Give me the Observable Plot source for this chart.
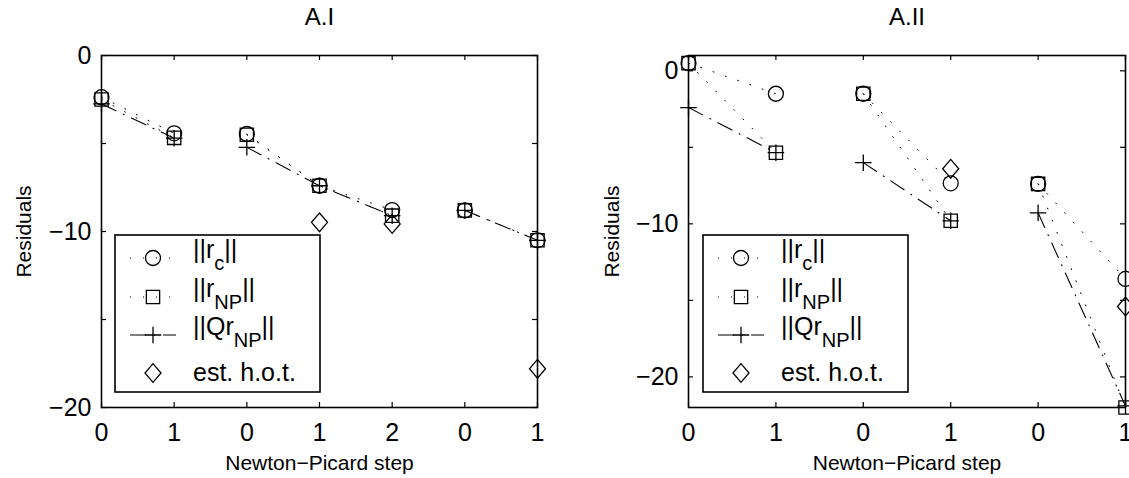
<!DOCTYPE html>
<html><head><meta charset="utf-8">
<script src="https://cdn.jsdelivr.net/npm/d3@7"></script>
<script src="https://cdn.jsdelivr.net/npm/@observablehq/plot@0.6"></script>
<style>
body{margin:0;background:#fff;}
#wrap{position:relative;width:1129px;height:478px;display:flex;overflow:hidden;}
.panel{position:relative;flex:none;}
.legend{position:absolute;}
svg text{font-family:"Liberation Sans",Arial,sans-serif;}
</style></head><body><div id="wrap"></div>
<script>
// ---------- data ----------
// Panel A.I
const stepLabelsA1 = ["0","1","0","1","2","0","1"];
const iterA1 = [1,1,2,2,2,3,3];
const rcA1   = [-2.37,-4.42,-4.46,-7.40,-8.78,-8.80,-10.50];
const rnpA1  = [-2.50,-4.68,-4.50,-7.40,-9.10,-8.80,-10.50];
const qrnpA1 = [-2.75,-4.70,-5.22,-7.40,-9.10,-8.80,-10.50];
const hotA1  = [null,null,null,-9.48,-9.57,null,-17.80];
// Panel A.II
const stepLabelsA2 = ["0","1","0","1","0","1"];
const iterA2 = [1,1,2,2,3,3];
const rcA2   = [0.50,-1.50,-1.50,-7.35,-7.39,-13.60];
const rnpA2  = [0.50,-5.35,-1.50,-9.80,-7.39,-22.00];
const qrnpA2 = [-2.40,-5.35,-6.00,-9.80,-9.28,-21.90];
const hotA2  = [null,null,null,-6.40,null,-15.40];
// axis ticks
const yTicksA1 = [-20,-15,-10,-5,0];
const yLabelsA1 = [-20,-10,0];
const yTicksA2 = [-20,-15,-10,-5,0];
const yLabelsA2 = [-20,-10,0];
const titles = ["A.I","A.II"];
const xTitle = "Newton\u2212Picard step";
const yTitle = "Residuals";

// ---------- styles ----------
const FONT = "Liberation Sans, Arial, sans-serif";
const FS_TICK = 25, FS_TITLE = 24, FS_LABEL = 21, FS_LEG = 25, FS_SUB = 20;
const dotted = "1,12";
const dashdot = "16,8,1,8";
const diamondSym = {draw(ctx,size){const r=Math.sqrt(size/Math.PI);ctx.moveTo(0,-1.25*r);ctx.lineTo(1.07*r,0);ctx.lineTo(0,1.25*r);ctx.lineTo(-1.07*r,0);ctx.closePath();}};
const plusSym = {draw(ctx,size){const r=Math.sqrt(size/Math.PI)*1.1;ctx.moveTo(-r,0);ctx.lineTo(r,0);ctx.moveTo(0,-r);ctx.lineTo(0,r);}};
const fmtY = d => d === 0 ? "0" : "\u2212" + Math.abs(d);

function panel(cfg){
  const {labels, iter, rc, rnp, qrnp, hot, ydom, yTicks, yLabels, title, width, ml, mr, ytx} = cfg;
  const H = 478, mt = 55, mb = 71;
  const innerW = width - ml - mr, innerH = H - mt - mb;
  const rows = labels.map((s,i)=>({i, step:s, it:iter[i], rc:rc[i], rnp:rnp[i], qrnp:qrnp[i], hot:hot[i]}));
  const xt = labels.map((_,i)=>i);
  const mk = {stroke:"black", fill:"none", strokeWidth:1.3, r:7.5};
  return Plot.plot({
    width, height:H, marginLeft:ml, marginRight:mr, marginTop:mt, marginBottom:mb,
    style:{fontFamily:FONT, fontSize:FS_TICK+"px", background:"white", color:"black"},
    x:{domain:[0, labels.length-1], axis:null},
    y:{domain:ydom, axis:null},
    marks:[
      Plot.line(rows,{x:"i", y:"rc", z:"it", stroke:"black", strokeWidth:1, strokeDasharray:dotted}),
      Plot.line(rows,{x:"i", y:"rnp", z:"it", stroke:"black", strokeWidth:1, strokeDasharray:dotted}),
      Plot.line(rows,{x:"i", y:"qrnp", z:"it", stroke:"black", strokeWidth:1.1, strokeDasharray:dashdot}),
      Plot.dot(rows,{x:"i", y:"rc", symbol:"circle", ...mk}),
      Plot.dot(rows,{x:"i", y:"rnp", symbol:"square", ...mk}),
      Plot.dot(rows,{x:"i", y:"qrnp", symbol:plusSym, ...mk}),
      Plot.dot(rows.filter(d=>d.hot!=null),{x:"i", y:"hot", symbol:diamondSym, ...mk}),
      // inward ticks
      Plot.tickX(xt,{x:d=>d, insetTop:innerH-5, stroke:"black", strokeWidth:1.2}),
      Plot.tickX(xt,{x:d=>d, insetBottom:innerH-5, stroke:"black", strokeWidth:1.2}),
      Plot.tickY(yTicks,{y:d=>d, insetRight:innerW-5, stroke:"black", strokeWidth:1.2}),
      Plot.tickY(yTicks,{y:d=>d, insetLeft:innerW-5, stroke:"black", strokeWidth:1.2}),
      Plot.frame({stroke:"black", strokeWidth:1.6}),
      Plot.axisX(xt,{tickSize:0, tickPadding:16, tickFormat:i=>labels[i], fontSize:FS_TICK, label:null}),
      Plot.axisY(yLabels,{tickSize:0, tickPadding:10, tickFormat:fmtY, fontSize:FS_TICK, label:null}),
      Plot.text([xTitle],{frameAnchor:"bottom", dy:56, lineAnchor:"middle", textAnchor:"middle", fontSize:FS_LABEL, fill:"black"}),
      Plot.text([yTitle],{frameAnchor:"left", dx:-(ml-ytx), rotate:-90, lineAnchor:"middle", textAnchor:"middle", fontSize:FS_LABEL, fill:"black"}),
      Plot.text([title],{frameAnchor:"top", dy:-38, lineAnchor:"middle", textAnchor:"middle", fontSize:FS_TITLE, fill:"black"})
    ]
  });
}

const legendItems = [
  {main:"||r", sub:"c", tail:"||", sym:d3.symbolCircle, dash:dotted},
  {main:"||r", sub:"NP", tail:"||", sym:d3.symbolSquare, dash:dotted},
  {main:"||Qr", sub:"NP", tail:"||", sym:plusSym, dash:dashdot},
  {main:"est. h.o.t.", sub:"", tail:"", sym:diamondSym, dash:null}
];
function legend(left, top){
  const w = 205, h = 157;
  const svg = d3.create("svg").attr("class","legend").attr("width",w+4).attr("height",h+4)
    .style("left",(left-2)+"px").style("top",(top-2)+"px");
  const g = svg.append("g").attr("transform","translate(2,2)");
  g.append("rect").attr("width",w).attr("height",h).attr("fill","white").attr("stroke","black").attr("stroke-width",1.6);
  const rowY = [23,62,100,138];
  const size = Math.PI*7.5*7.5;
  legendItems.forEach((it,k)=>{
    const y = rowY[k];
    if (it.dash) g.append("line").attr("x1",15).attr("x2",61).attr("y1",y).attr("y2",y)
      .attr("stroke","black").attr("stroke-width",1).attr("stroke-dasharray",it.dash);
    g.append("path").attr("transform",`translate(38,${y})`).attr("d",d3.symbol(it.sym,size)())
      .attr("fill","none").attr("stroke","black").attr("stroke-width",1.3);
    const t = g.append("text").attr("x",78).attr("y",y+(it.sub?0:8)).attr("font-size",FS_LEG).attr("fill","black");
    t.append("tspan").text(it.main);
    if (it.sub){
      t.append("tspan").attr("dy",12).attr("font-size",FS_SUB).text(it.sub);
      t.append("tspan").attr("dy",-12).text(it.tail);
    }
  });
  return svg.node();
}

const wrap = document.getElementById("wrap");
const p1 = document.createElement("div"); p1.className="panel";
p1.appendChild(panel({labels:stepLabelsA1, iter:iterA1, rc:rcA1, rnp:rnpA1, qrnp:qrnpA1, hot:hotA1,
  ydom:[-20,0], yTicks:yTicksA1, yLabels:yLabelsA1, title:titles[0], width:564, ml:101, mr:27, ytx:24}));
p1.appendChild(legend(115,235));
const p2 = document.createElement("div"); p2.className="panel";
p2.appendChild(panel({labels:stepLabelsA2, iter:iterA2, rc:rcA2, rnp:rnpA2, qrnp:qrnpA2, hot:hotA2,
  ydom:[-22,1], yTicks:yTicksA2, yLabels:yLabelsA2, title:titles[1], width:565, ml:124, mr:4, ytx:48}));
p2.appendChild(legend(139,235));
wrap.appendChild(p1); wrap.appendChild(p2);
</script></body></html>
